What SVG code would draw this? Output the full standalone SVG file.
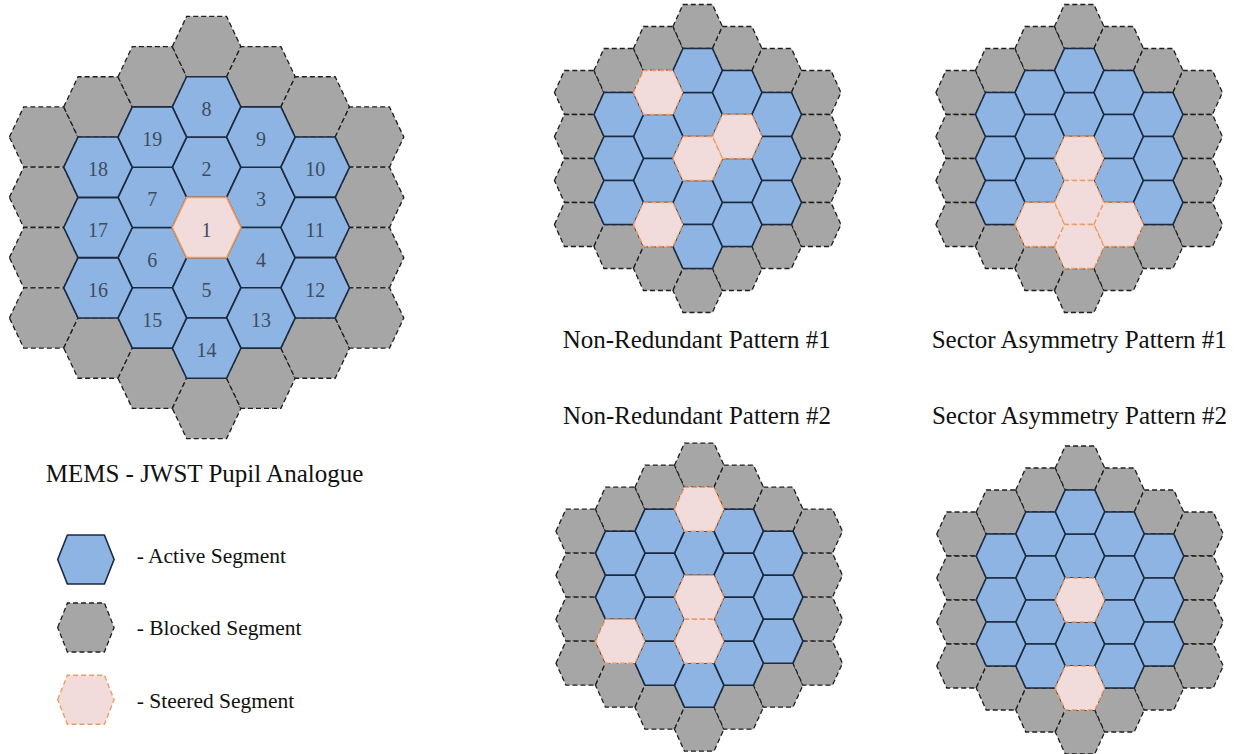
<svg xmlns="http://www.w3.org/2000/svg" width="1247" height="754" viewBox="0 0 1247 754">
<style>
.act{fill:#8db4e2;stroke:#1b2a40;stroke-width:1.6;stroke-linejoin:round}
.blk{fill:#a6a6a6;stroke:#1e1e1e;stroke-width:1.3;stroke-dasharray:5 3}
.str{fill:#f2dcdb;stroke:#ee9c63;stroke-width:1.4;stroke-dasharray:5 3}
.strs{fill:#f2dcdb;stroke:#ee9c63;stroke-width:1.6}
.num{font-size:20px;fill:#3d4c61;text-anchor:middle}
.ttl{font-size:25px;fill:#111;text-anchor:middle}
.leg{font-size:21.5px;fill:#111}
</style>
<defs>
<polygon id="hb" points="-34.3,0 -20,-30.15 20,-30.15 34.3,0 20,30.15 -20,30.15"/>
<polygon id="hs" points="-24.75,0 -14.75,-22 14.75,-22 24.75,0 14.75,22 -14.75,22"/>
<polygon id="hl" points="-28.2,0 -18.5,-24.5 18.5,-24.5 28.2,0 18.5,24.5 -18.5,24.5"/>
<g id="gray-ring">
<use href="#hs" x="-118.5" y="-66"/><use href="#hs" x="-118.5" y="-22"/><use href="#hs" x="-118.5" y="22"/><use href="#hs" x="-118.5" y="66"/>
<use href="#hs" x="-79" y="-88"/><use href="#hs" x="-79" y="88"/>
<use href="#hs" x="-39.5" y="-110"/><use href="#hs" x="-39.5" y="110"/>
<use href="#hs" x="0" y="-132"/><use href="#hs" x="0" y="132"/>
<use href="#hs" x="39.5" y="-110"/><use href="#hs" x="39.5" y="110"/>
<use href="#hs" x="79" y="-88"/><use href="#hs" x="79" y="88"/>
<use href="#hs" x="118.5" y="-66"/><use href="#hs" x="118.5" y="-22"/><use href="#hs" x="118.5" y="22"/><use href="#hs" x="118.5" y="66"/>
</g>
</defs>

<g font-family="Liberation Serif, Times New Roman, Times, serif">
<!-- Main MEMS pupil -->
<g id="mems-pupil">
<g id="blocked-main" class="blk">
<use href="#hb" x="43.7" y="137.05"/><use href="#hb" x="43.7" y="197.35"/><use href="#hb" x="43.7" y="257.65"/><use href="#hb" x="43.7" y="317.95"/>
<use href="#hb" x="98" y="106.9"/><use href="#hb" x="98" y="348.1"/>
<use href="#hb" x="152.3" y="76.75"/><use href="#hb" x="152.3" y="378.25"/>
<use href="#hb" x="206.6" y="46.6"/><use href="#hb" x="206.6" y="408.4"/>
<use href="#hb" x="260.9" y="76.75"/><use href="#hb" x="260.9" y="378.25"/>
<use href="#hb" x="315.2" y="106.9"/><use href="#hb" x="315.2" y="348.1"/>
<use href="#hb" x="369.5" y="137.05"/><use href="#hb" x="369.5" y="197.35"/><use href="#hb" x="369.5" y="257.65"/><use href="#hb" x="369.5" y="317.95"/>
</g>
<g id="seg-2"><use href="#hb" class="act" x="206.6" y="167.2"/><text class="num" x="206.6" y="176.2">2</text></g>
<g id="seg-3"><use href="#hb" class="act" x="260.9" y="197.35"/><text class="num" x="260.9" y="206.35">3</text></g>
<g id="seg-4"><use href="#hb" class="act" x="260.9" y="257.65"/><text class="num" x="260.9" y="266.65">4</text></g>
<g id="seg-5"><use href="#hb" class="act" x="206.6" y="287.8"/><text class="num" x="206.6" y="296.8">5</text></g>
<g id="seg-6"><use href="#hb" class="act" x="152.3" y="257.65"/><text class="num" x="152.3" y="266.65">6</text></g>
<g id="seg-7"><use href="#hb" class="act" x="152.3" y="197.35"/><text class="num" x="152.3" y="206.35">7</text></g>
<g id="seg-8"><use href="#hb" class="act" x="206.6" y="106.9"/><text class="num" x="206.6" y="115.9">8</text></g>
<g id="seg-9"><use href="#hb" class="act" x="260.9" y="137.05"/><text class="num" x="260.9" y="146.05">9</text></g>
<g id="seg-10"><use href="#hb" class="act" x="315.2" y="167.2"/><text class="num" x="315.2" y="176.2">10</text></g>
<g id="seg-11"><use href="#hb" class="act" x="315.2" y="227.5"/><text class="num" x="315.2" y="236.5">11</text></g>
<g id="seg-12"><use href="#hb" class="act" x="315.2" y="287.8"/><text class="num" x="315.2" y="296.8">12</text></g>
<g id="seg-13"><use href="#hb" class="act" x="260.9" y="317.95"/><text class="num" x="260.9" y="326.95">13</text></g>
<g id="seg-14"><use href="#hb" class="act" x="206.6" y="348.1"/><text class="num" x="206.6" y="357.1">14</text></g>
<g id="seg-15"><use href="#hb" class="act" x="152.3" y="317.95"/><text class="num" x="152.3" y="326.95">15</text></g>
<g id="seg-16"><use href="#hb" class="act" x="98" y="287.8"/><text class="num" x="98" y="296.8">16</text></g>
<g id="seg-17"><use href="#hb" class="act" x="98" y="227.5"/><text class="num" x="98" y="236.5">17</text></g>
<g id="seg-18"><use href="#hb" class="act" x="98" y="167.2"/><text class="num" x="98" y="176.2">18</text></g>
<g id="seg-19"><use href="#hb" class="act" x="152.3" y="137.05"/><text class="num" x="152.3" y="146.05">19</text></g>
<g id="seg-1"><use href="#hb" class="strs" x="206.6" y="227.5"/><text class="num" x="206.6" y="236.5">1</text></g>
</g>
<text id="title-main" class="ttl" x="204.5" y="481.5">MEMS - JWST Pupil Analogue</text>

<!-- Legend -->
<g id="legend-active"><use href="#hl" class="act" x="85.9" y="559.5"/><text class="leg" x="136.7" y="563.3">- Active Segment</text></g>
<g id="legend-blocked"><use href="#hl" class="blk" x="85.9" y="627.5"/><text class="leg" x="136.7" y="635">- Blocked Segment</text></g>
<g id="legend-steered"><use href="#hl" class="str" x="85.9" y="699.7"/><text class="leg" x="136.7" y="707.7">- Steered Segment</text></g>

<!-- Non-Redundant Pattern #1 -->
<g id="nrp1" transform="translate(697.7,158.5)">
<use href="#gray-ring" class="blk"/>
<g class="act">
<use href="#hs" x="0" y="-44"/><use href="#hs" x="0" y="-88"/><use href="#hs" x="0" y="44"/><use href="#hs" x="0" y="88"/>
<use href="#hs" x="39.5" y="-66"/><use href="#hs" x="39.5" y="22"/><use href="#hs" x="39.5" y="66"/>
<use href="#hs" x="79" y="-44"/><use href="#hs" x="79" y="0"/><use href="#hs" x="79" y="44"/>
<use href="#hs" x="-39.5" y="-22"/><use href="#hs" x="-39.5" y="22"/>
<use href="#hs" x="-79" y="-44"/><use href="#hs" x="-79" y="0"/><use href="#hs" x="-79" y="44"/>
</g>
<g class="str">
<use href="#hs" x="-39.5" y="-66"/><use href="#hs" x="39.5" y="-22"/><use href="#hs" x="0" y="0"/><use href="#hs" x="-39.5" y="66"/>
</g>
</g>
<text id="title-nrp1" class="ttl" x="696.7" y="348.3">Non-Redundant Pattern #1</text>

<!-- Sector Asymmetry Pattern #1 -->
<g id="sap1" transform="translate(1079.2,158.5)">
<use href="#gray-ring" class="blk"/>
<g class="act">
<use href="#hs" x="0" y="-44"/><use href="#hs" x="0" y="-88"/>
<use href="#hs" x="39.5" y="-66"/><use href="#hs" x="39.5" y="-22"/><use href="#hs" x="39.5" y="22"/>
<use href="#hs" x="79" y="-44"/><use href="#hs" x="79" y="0"/><use href="#hs" x="79" y="44"/>
<use href="#hs" x="-39.5" y="-66"/><use href="#hs" x="-39.5" y="-22"/><use href="#hs" x="-39.5" y="22"/>
<use href="#hs" x="-79" y="-44"/><use href="#hs" x="-79" y="0"/><use href="#hs" x="-79" y="44"/>
</g>
<g class="str">
<use href="#hs" x="0" y="0"/><use href="#hs" x="0" y="44"/><use href="#hs" x="-39.5" y="66"/><use href="#hs" x="39.5" y="66"/><use href="#hs" x="0" y="88"/>
</g>
</g>
<text id="title-sap1" class="ttl" x="1079.2" y="348.3">Sector Asymmetry Pattern #1</text>

<!-- Non-Redundant Pattern #2 -->
<g id="nrp2" transform="translate(699.2,597.2)">
<use href="#gray-ring" class="blk"/>
<g class="act">
<use href="#hs" x="0" y="-44"/><use href="#hs" x="0" y="88"/>
<use href="#hs" x="39.5" y="-66"/><use href="#hs" x="39.5" y="-22"/><use href="#hs" x="39.5" y="22"/><use href="#hs" x="39.5" y="66"/>
<use href="#hs" x="79" y="-44"/><use href="#hs" x="79" y="0"/><use href="#hs" x="79" y="44"/>
<use href="#hs" x="-39.5" y="-66"/><use href="#hs" x="-39.5" y="-22"/><use href="#hs" x="-39.5" y="22"/><use href="#hs" x="-39.5" y="66"/>
<use href="#hs" x="-79" y="-44"/><use href="#hs" x="-79" y="0"/>
</g>
<g class="str">
<use href="#hs" x="0" y="-88"/><use href="#hs" x="0" y="0"/><use href="#hs" x="0" y="44"/><use href="#hs" x="-79" y="44"/>
</g>
</g>
<text id="title-nrp2" class="ttl" x="697" y="423.5">Non-Redundant Pattern #2</text>

<!-- Sector Asymmetry Pattern #2 -->
<g id="sap2" transform="translate(1080,600)">
<use href="#gray-ring" class="blk"/>
<g class="act">
<use href="#hs" x="0" y="-44"/><use href="#hs" x="0" y="-88"/><use href="#hs" x="0" y="44"/>
<use href="#hs" x="39.5" y="-66"/><use href="#hs" x="39.5" y="-22"/><use href="#hs" x="39.5" y="22"/><use href="#hs" x="39.5" y="66"/>
<use href="#hs" x="79" y="-44"/><use href="#hs" x="79" y="0"/><use href="#hs" x="79" y="44"/>
<use href="#hs" x="-39.5" y="-66"/><use href="#hs" x="-39.5" y="-22"/><use href="#hs" x="-39.5" y="22"/><use href="#hs" x="-39.5" y="66"/>
<use href="#hs" x="-79" y="-44"/><use href="#hs" x="-79" y="0"/><use href="#hs" x="-79" y="44"/>
</g>
<g class="str">
<use href="#hs" x="0" y="0"/><use href="#hs" x="0" y="88"/>
</g>
</g>
<text id="title-sap2" class="ttl" x="1079.5" y="423.5">Sector Asymmetry Pattern #2</text>
</g>
</svg>
